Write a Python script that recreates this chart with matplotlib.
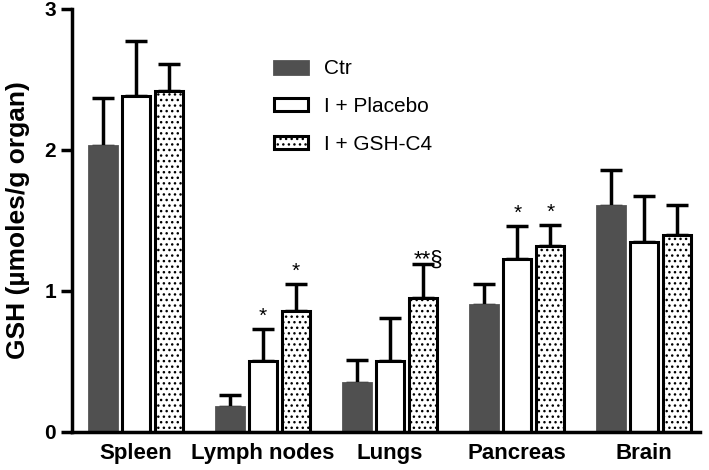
import numpy as np
import matplotlib.pyplot as plt

plt.rcParams['font.family'] = ['Liberation Sans', 'DejaVu Sans']
plt.rcParams['hatch.linewidth'] = 1.0

organs = ["Spleen", "Lymph nodes", "Lungs", "Pancreas", "Brain"]
groups = ["Ctr", "I + Placebo", "I + GSH-C4"]

ctr_mean = [2.03, 0.18, 0.35, 0.90, 1.60]
ctr_err = [0.34, 0.08, 0.16, 0.15, 0.26]
placebo_mean = [2.38, 0.50, 0.50, 1.23, 1.35]
placebo_err = [0.39, 0.23, 0.31, 0.23, 0.32]
gsh_mean = [2.42, 0.86, 0.95, 1.32, 1.40]
gsh_err = [0.19, 0.19, 0.24, 0.15, 0.21]

placebo_marks = ["", "*", "", "*", ""]
gsh_marks = ["", "*", "**§", "*", ""]

fig = plt.figure(figsize=(7.09, 4.70), dpi=100)
ax = fig.add_axes([0.1016, 0.081, 0.886, 0.9])

x = np.arange(len(organs))
w = 0.22
off = 0.26

ekw = dict(elinewidth=2.5, capsize=8, capthick=2.5, ecolor='black')
ax.bar(x - off, ctr_mean, w, color='#505050', edgecolor='#505050', linewidth=2,
       label=groups[0], zorder=2)
ax.errorbar(x - off, ctr_mean, yerr=[np.zeros(5), ctr_err], fmt='none', zorder=1, **ekw)
ax.bar(x, placebo_mean, w, color='white', edgecolor='black', linewidth=2.2,
       label=groups[1], zorder=2)
ax.errorbar(x, placebo_mean, yerr=[np.zeros(5), placebo_err], fmt='none', zorder=1, **ekw)
ax.bar(x + off, gsh_mean, w, color='white', edgecolor='black', linewidth=2.2,
       hatch='...', label=groups[2], zorder=2)
ax.errorbar(x + off, gsh_mean, yerr=[np.zeros(5), gsh_err], fmt='none', zorder=1, **ekw)

for i in range(len(organs)):
    if placebo_marks[i]:
        ax.text(x[i], placebo_mean[i] + placebo_err[i] + 0.02, placebo_marks[i],
                ha='center', va='bottom', fontsize=15)
    if gsh_marks[i]:
        m = gsh_marks[i]
        if m == "**§":
            ax.text(x[i] + off + 0.04, gsh_mean[i] + gsh_err[i] - 0.05, m,
                    ha='center', va='bottom', fontsize=16)
        else:
            ax.text(x[i] + off, gsh_mean[i] + gsh_err[i] + 0.02, m,
                    ha='center', va='bottom', fontsize=15)

ax.set_xlim(-0.504, 4.44)
ax.set_ylim(0, 3)
ax.set_yticks([0, 1, 2, 3])
ax.set_xticks(x)
ax.set_xticklabels(organs, fontsize=16, fontweight='bold')
ax.tick_params(axis='y', labelsize=15, width=2.5, length=8)
for lab in ax.get_yticklabels():
    lab.set_fontweight('bold')
ax.tick_params(axis='x', length=0, pad=8)
ax.spines['top'].set_visible(False)
ax.spines['right'].set_visible(False)
ax.spines['left'].set_linewidth(2.5)
ax.spines['bottom'].set_linewidth(2.5)
ax.set_ylabel("GSH (µmoles/g organ)", fontsize=19, fontweight='bold', labelpad=10)

ax.legend(loc='upper left', bbox_to_anchor=(0.291, 0.925), frameon=False, fontsize=15,
          handlelength=1.63, handleheight=0.58, labelspacing=0.9, handletextpad=0.77)

fig.savefig("out.png", dpi=100)
